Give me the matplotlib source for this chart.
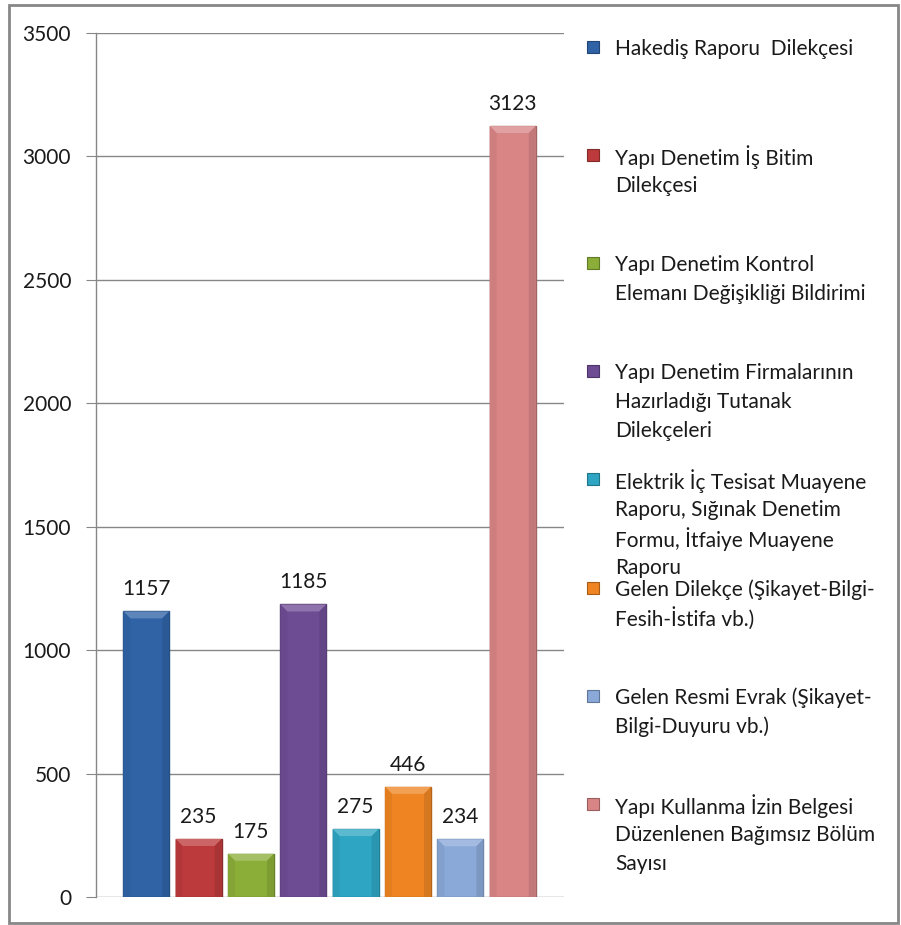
import matplotlib
matplotlib.use("Agg")
import matplotlib.pyplot as plt
from matplotlib.patches import Rectangle, Polygon
import matplotlib.colors as mcolors

categories = [
    "Hakediş Raporu  Dilekçesi",
    "Yapı Denetim İş Bitim\nDilekçesi",
    "Yapı Denetim Kontrol\nElemanı Değişikliği Bildirimi",
    "Yapı Denetim Firmalarının\nHazırladığı Tutanak\nDilekçeleri",
    "Elektrik İç Tesisat Muayene\nRaporu, Sığınak Denetim\nFormu, İtfaiye Muayene\nRaporu",
    "Gelen Dilekçe (Şikayet-Bilgi-\nFesih-İstifa vb.)",
    "Gelen Resmi Evrak (Şikayet-\nBilgi-Duyuru vb.)",
    "Yapı Kullanma İzin Belgesi\nDüzenlenen Bağımsız Bölüm\nSayısı",
]
values = [1157, 235, 175, 1185, 275, 446, 234, 3123]
colors = ["#2F63A6", "#BC3A3B", "#8BAE38", "#6E4C94", "#2DA5C3", "#EE8522", "#8AA8D8", "#D98586"]
yticks = [0, 500, 1000, 1500, 2000, 2500, 3000, 3500]

FONT = "Lato"
FS = 15
W, H = 901, 925
fig = plt.figure(figsize=(W / 100, H / 100), dpi=100)
ax = fig.add_axes([96 / W, 1 - 897 / H, (564 - 96) / W, (897 - 33) / H])

x = list(range(len(values)))
bw = 0.88
ax.set_xlim(-0.96, 7.98)
ax.set_ylim(0, 3500)

def darker(c, f):
    r, g, b = mcolors.to_rgb(c)
    return (r * f, g * f, b * f)

def lighter(c, f):
    r, g, b = mcolors.to_rgb(c)
    return (r + (1 - r) * f, g + (1 - g) * f, b + (1 - b) * f)

bars = ax.bar(x, values, width=bw, color=colors, edgecolor=[darker(c, 0.75) for c in colors],
              linewidth=1.0, zorder=3)

# bevel highlight at bar tops
fig.canvas.draw()
inv = ax.transData.inverted()
p0 = inv.transform((0, 0))
p1 = inv.transform((1, 1))
dxp = p1[0] - p0[0]
dyp = p1[1] - p0[1]
bev = 7
for xi, v, c in zip(x, values, colors):
    l, r = xi - bw / 2, xi + bw / 2
    top = Polygon([(l, v), (r, v), (r - bev * dxp, v - bev * dyp), (l + bev * dxp, v - bev * dyp)],
                  closed=True, facecolor=lighter(c, 0.22), edgecolor="none", zorder=4)
    ax.add_patch(top)
    side_l = Polygon([(l, v), (l + bev * dxp, v - bev * dyp), (l + bev * dxp, 0), (l, 0)],
                     closed=True, facecolor=darker(c, 0.95), edgecolor="none", zorder=4)
    side_r = Polygon([(r, v), (r - bev * dxp, v - bev * dyp), (r - bev * dxp, 0), (r, 0)],
                     closed=True, facecolor=darker(c, 0.9), edgecolor="none", zorder=4)
    ax.add_patch(side_l)
    ax.add_patch(side_r)
    ax.annotate(str(v), (xi, v), xytext=(0, 12), textcoords="offset pixels",
                ha="center", va="bottom", fontsize=FS, family=FONT, color="#1a1a1a", zorder=5)

ax.set_yticks(yticks)
ax.set_yticklabels([str(t) for t in yticks], fontsize=FS, family=FONT, color="#1a1a1a")
ax.set_xticks([])
ax.grid(axis="y", color="#878787", linewidth=1.0, zorder=0)
ax.set_axisbelow(True)
for s in ["top", "right", "bottom"]:
    ax.spines[s].set_visible(False)
ax.spines["left"].set_color("#878787")
ax.spines["left"].set_linewidth(1.0)
ax.tick_params(axis="y", length=7, color="#878787", pad=11)

# legend entries (evenly distributed like Excel)
y0 = 47
step = 108.1
line_h = 29.0
for i, (lab, c) in enumerate(zip(categories, colors)):
    yc = y0 + i * step
    fig.patches.append(Rectangle((587 / W, 1 - (yc + 6) / H), 12 / W, 12 / H,
                                 transform=fig.transFigure, facecolor=c,
                                 edgecolor=darker(c, 0.7), linewidth=0.8))
    for k, line in enumerate(lab.split("\n")):
        fig.text(615 / W, 1 - (yc + k * line_h) / H, line, ha="left", va="center_baseline",
                 fontsize=FS, family=FONT, color="#1a1a1a")

# outer border
fig.patches.append(Rectangle((9 / W, 1 - 923 / H), (898 - 9) / W, (923 - 5) / H,
                             transform=fig.transFigure, facecolor="none",
                             edgecolor="#878787", linewidth=2))

fig.savefig("out.png", dpi=100)
